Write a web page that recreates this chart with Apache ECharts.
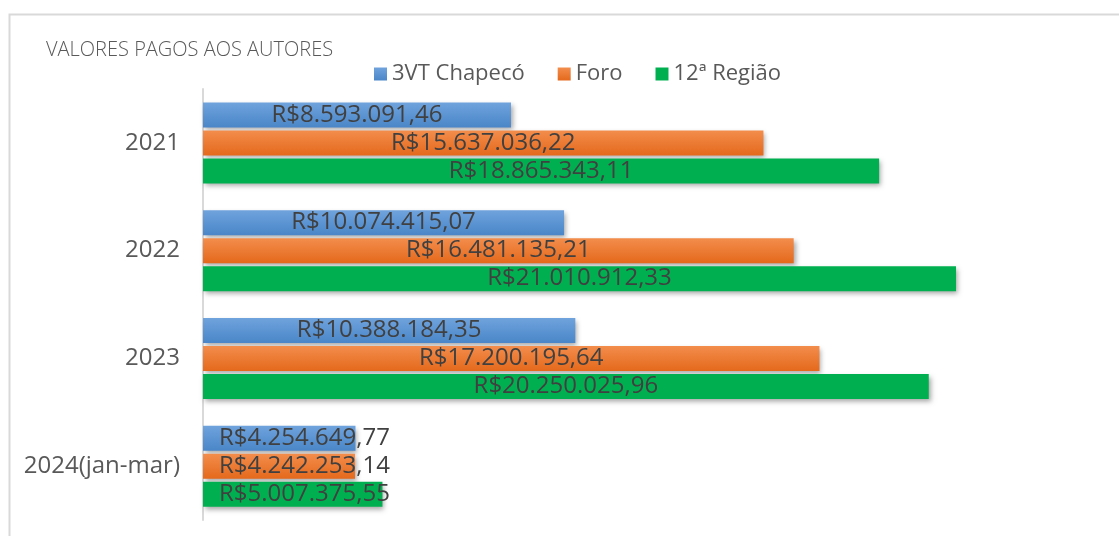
<!DOCTYPE html>
<html lang="pt">
<head>
    <meta charset="UTF-8">
    <title>Valores pagos aos autores</title>
    <script src="https://cdn.jsdelivr.net/npm/echarts@6/dist/echarts.min.js"></script>
    <style>
        html, body { margin: 0; padding: 0; background: #fff; }
    </style>
</head>
<body>
    <div id="chart" style="width: 1119px; height: 536px;"></div>

    <script>
        // dados
        var anos = ["2021", "2022", "2023", "2024(jan-mar)"]
        var series_nomes = ["3VT Chapecó", "Foro", "12ª Região"]
        var vt_chapeco = [8593091.46, 10074415.07, 10388184.35, 4254649.77]
        var foro = [15637036.22, 16481135.21, 17200195.64, 4242253.14]
        var regiao12 = [18865343.11, 21010912.33, 20250025.96, 5007375.55]

        // R$ no formato brasileiro
        function moeda(v){
            var partes = v.toFixed(2).split(".")
            var inteiro = partes[0].replace(/\B(?=(\d{3})+(?!\d))/g, ".")
            return "R$" + inteiro + "," + partes[1]
        }

        function grad(c1, c2){
            return new echarts.graphic.LinearGradient(0, 0, 0, 1, [
                {offset: 0, color: c1},
                {offset: 1, color: c2}
            ])
        }

        // o último ano tem barras curtas: rótulo encostado à esquerda
        function montar(valores){
            return valores.map(function(v, i){
                if(i == valores.length - 1){
                    return {value: v, label: {position: "insideLeft", distance: 16}}
                }
                return v
            })
        }

        var cores = [
            grad("#6fa3dd", "#4a86c8"),
            grad("#f38d4c", "#e4691c"),
            "#00b050"
        ]
        var legendCores = ["#5b9bd5", "#ed7d31", "#00b050"]
        var valores = [vt_chapeco, foro, regiao12]

        var chart = echarts.init(document.getElementById("chart"))

        var series = valores.map(function(vals, k){
            return {
                name: series_nomes[k],
                type: "bar",
                data: montar(vals),
                barWidth: 25,
                barGap: "12%",
                itemStyle: {
                    color: cores[k],
                    shadowBlur: 5,
                    shadowOffsetX: 2,
                    shadowOffsetY: 3,
                    shadowColor: "rgba(0,0,0,0.35)"
                },
                label: {
                    show: true,
                    position: "inside",
                    color: "#404040",
                    fontSize: 24,
                    fontFamily: "Open Sans",
                    formatter: function(p){ return moeda(p.value) }
                }
            }
        })

        var option = {
            animation: false,
            color: legendCores,
            title: {
                text: "VALORES PAGOS AOS AUTORES",
                left: 41,
                top: 35,
                textStyle: {
                    color: "#595959",
                    fontSize: 20,
                    fontWeight: 300,
                    fontFamily: "Open Sans"
                }
            },
            legend: {
                data: series_nomes,
                left: 369,
                top: 58,
                itemWidth: 13,
                itemHeight: 13,
                itemGap: 33,
                icon: "rect",
                textStyle: {
                    color: "#595959",
                    fontSize: 22,
                    fontFamily: "Open Sans"
                }
            },
            grid: {
                left: 203,
                right: 20,
                top: 89,
                bottom: 16,
                containLabel: false
            },
            xAxis: {
                type: "value",
                min: 0,
                max: 25000000,
                show: false
            },
            yAxis: {
                type: "category",
                data: anos,
                inverse: true,
                axisLine: {show: true, lineStyle: {color: "#d9d9d9", width: 2}},
                axisTick: {show: false},
                axisLabel: {
                    color: "#595959",
                    fontSize: 24,
                    margin: 23,
                    fontFamily: "Open Sans"
                }
            },
            graphic: [{
                type: "rect",
                silent: true,
                z: -1,
                shape: {x: 9.5, y: 14.5, width: 1130, height: 540},
                style: {fill: "none", stroke: "#d9d9d9", lineWidth: 2}
            }],
            series: series
        }

        chart.setOption(option)
    </script>
</body>
</html>
